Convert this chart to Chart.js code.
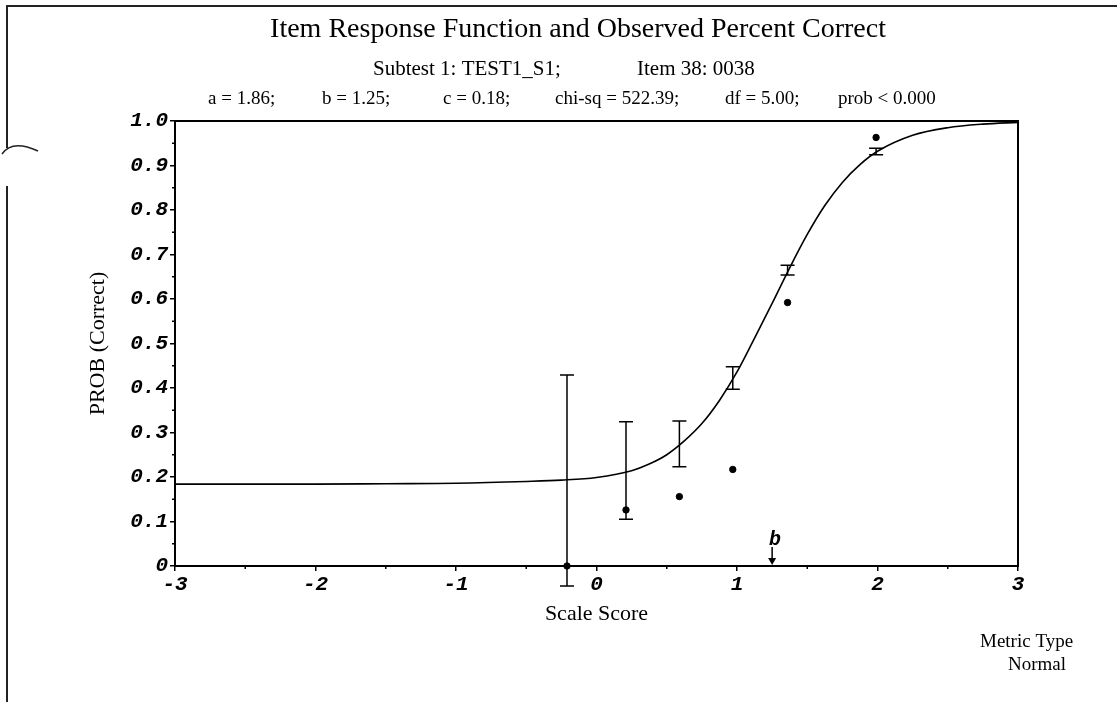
<!DOCTYPE html>
<html>
<head>
<meta charset="utf-8">
<title>Item Response Function</title>
<script src="https://cdn.jsdelivr.net/npm/chart.js@4"></script>
<style>
  body { margin: 0; background: #fff; }
  #wrap { width: 1117px; height: 702px; position: relative; }
</style>
</head>
<body>
<div id="wrap"><canvas id="chart"></canvas></div>
<script>
const paramA = 1.86;
const paramB = 1.25;
const paramC = 0.18;
const chiSq = 522.39;
const df = 5.00;

// fitted response curve
const curveX = [-3, -2.5, -2, -1.5, -1, -0.5, -0.25, 0, 0.25, 0.375, 0.5, 0.625, 0.75, 0.875, 1, 1.125, 1.25, 1.375, 1.5, 1.625, 1.75, 1.875, 2, 2.25, 2.5, 2.75, 3];
const curveP = [0.184, 0.184, 0.184, 0.185, 0.186, 0.19, 0.193, 0.199, 0.214, 0.229, 0.25, 0.281, 0.32, 0.372, 0.436, 0.512, 0.59, 0.67, 0.745, 0.81, 0.862, 0.902, 0.932, 0.968, 0.985, 0.993, 0.997];

// observed percent correct per score group
const obsX = [-0.21, 0.21, 0.59, 0.97, 1.36, 1.99];
const obsP = [0.0, 0.126, 0.156, 0.217, 0.592, 0.963];
const barLow = [-0.045, 0.105, 0.223, 0.397, 0.654, 0.924];
const barHigh = [0.429, 0.324, 0.326, 0.448, 0.676, 0.939];

const xTickLabels = ['-3', '-2', '-1', '0', '1', '2', '3'];
const yTickLabels = ['0', '0.1', '0.2', '0.3', '0.4', '0.5', '0.6', '0.7', '0.8', '0.9', '1.0'];

const titleText = 'Item Response Function and Observed Percent Correct';
const subtitleParts = ['Subtest 1: TEST1_S1;', 'Item 38: 0038'];
const statParts = [
    `a = ${paramA.toFixed(2)};`,
    `b = ${paramB.toFixed(2)};`,
    `c = ${paramC.toFixed(2)};`,
    `chi-sq = ${chiSq.toFixed(2)};`,
    `df = ${df.toFixed(2)};`,
    'prob < 0.000'
];

const serif = '"Liberation Serif", "Times New Roman", serif';
const mono = '"Liberation Mono", "Courier New", monospace';
const tickFont = { family: mono, size: 21, style: 'italic', weight: 'bold' };

const decor = {
    id: 'decor',
    afterDraw(chart) {
        const { ctx, chartArea: area, scales: { x, y } } = chart;
        ctx.save();
        ctx.fillStyle = '#000';

        // page frame
        ctx.strokeStyle = '#222';
        ctx.lineWidth = 2;
        ctx.beginPath();
        ctx.moveTo(7, 702); ctx.lineTo(7, 186);
        ctx.moveTo(7, 148); ctx.lineTo(7, 6); ctx.lineTo(1117, 6);
        ctx.stroke();
        ctx.lineWidth = 1.5;
        ctx.beginPath();
        ctx.moveTo(2, 154);
        ctx.quadraticCurveTo(12, 139, 38, 151);
        ctx.stroke();
        ctx.strokeStyle = '#000';

        // plot box
        ctx.lineWidth = 2;
        ctx.strokeRect(area.left, area.top, area.right - area.left, area.bottom - area.top);

        // minor ticks halfway between labelled ones
        ctx.lineWidth = 1.5;
        ctx.beginPath();
        for (let i = 0; i < y.ticks.length - 1; i++) {
            const py = y.getPixelForValue((y.ticks[i].value + y.ticks[i + 1].value) / 2);
            ctx.moveTo(area.left - 3, py); ctx.lineTo(area.left, py);
        }
        for (let i = 0; i < x.ticks.length - 1; i++) {
            const px = x.getPixelForValue((x.ticks[i].value + x.ticks[i + 1].value) / 2);
            ctx.moveTo(px, area.bottom); ctx.lineTo(px, area.bottom + 3);
        }
        ctx.stroke();

        // error bars around the fitted values
        ctx.lineWidth = 1.5;
        obsX.forEach((v, i) => {
            const px = x.getPixelForValue(v);
            const lo = y.getPixelForValue(barLow[i]);
            const hi = y.getPixelForValue(barHigh[i]);
            ctx.beginPath();
            ctx.moveTo(px, lo); ctx.lineTo(px, hi);
            ctx.moveTo(px - 7, lo); ctx.lineTo(px + 7, lo);
            ctx.moveTo(px - 7, hi); ctx.lineTo(px + 7, hi);
            ctx.stroke();
        });

        // difficulty marker
        const bx = x.getPixelForValue(paramB);
        ctx.beginPath();
        ctx.moveTo(bx, area.bottom - 19); ctx.lineTo(bx, area.bottom - 6);
        ctx.stroke();
        ctx.beginPath();
        ctx.moveTo(bx - 4, area.bottom - 8);
        ctx.lineTo(bx + 4, area.bottom - 8);
        ctx.lineTo(bx, area.bottom - 1);
        ctx.closePath();
        ctx.fill();
        ctx.font = `italic bold 20px ${mono}`;
        ctx.textAlign = 'center';
        ctx.textBaseline = 'alphabetic';
        ctx.fillText('b', bx + 3, area.bottom - 21);

        // headings
        ctx.font = `28px ${serif}`;
        ctx.fillText(titleText, 578, 37);
        ctx.textAlign = 'left';
        ctx.font = `21px ${serif}`;
        ctx.fillText(subtitleParts[0], 373, 75);
        ctx.fillText(subtitleParts[1], 637, 75);
        ctx.font = `19px ${serif}`;
        const statX = [208, 322, 443, 555, 725, 838];
        statParts.forEach((s, i) => ctx.fillText(s, statX[i], 104));

        // axis titles
        ctx.textAlign = 'center';
        ctx.font = `22px ${serif}`;
        ctx.fillText('Scale Score', (area.left + area.right) / 2, 620);
        ctx.save();
        ctx.translate(104, (area.top + area.bottom) / 2);
        ctx.rotate(-Math.PI / 2);
        ctx.fillText('PROB (Correct)', 0, 0);
        ctx.restore();

        ctx.font = `19px ${serif}`;
        ctx.textAlign = 'left';
        ctx.fillText('Metric Type', 980, 647);
        ctx.fillText('Normal', 1008, 670);
        ctx.restore();
    }
};

const config = {
    type: 'scatter',
    data: {
        datasets: [
            {
                type: 'line',
                label: 'IRF',
                data: curveX.map((v, i) => ({ x: v, y: curveP[i] })),
                borderColor: '#000',
                borderWidth: 1.6,
                pointRadius: 0,
                cubicInterpolationMode: 'monotone',
                fill: false
            },
            {
                label: 'Observed',
                data: obsX.map((v, i) => ({ x: v, y: obsP[i] })),
                backgroundColor: '#000',
                borderColor: '#000',
                pointRadius: 3.2,
                clip: false
            }
        ]
    },
    options: {
        responsive: true,
        maintainAspectRatio: false,
        animation: false,
        layout: { padding: { left: 105, right: 99, top: 121, bottom: 96 } },
        plugins: {
            legend: { display: false },
            tooltip: { enabled: false }
        },
        scales: {
            x: {
                type: 'linear',
                min: -3,
                max: 3,
                afterFit: (scale) => { scale.height = 40; },
                ticks: {
                    stepSize: 1,
                    color: '#000',
                    font: tickFont,
                    padding: 1,
                    maxRotation: 0,
                    callback: (v, i) => xTickLabels[i]
                },
                grid: { drawOnChartArea: false, tickLength: 5, color: '#000', lineWidth: 1.5 },
                border: { color: '#000', width: 2 }
            },
            y: {
                min: 0,
                max: 1,
                afterFit: (scale) => { scale.width = 70; },
                ticks: {
                    stepSize: 0.1,
                    color: '#000',
                    font: tickFont,
                    padding: 2,
                    callback: (v, i) => yTickLabels[i]
                },
                grid: { drawOnChartArea: false, tickLength: 5, color: '#000', lineWidth: 1.5 },
                border: { color: '#000', width: 2 }
            }
        }
    },
    plugins: [decor]
};

const myChart = new Chart(document.getElementById('chart'), config);
</script>
</body>
</html>
